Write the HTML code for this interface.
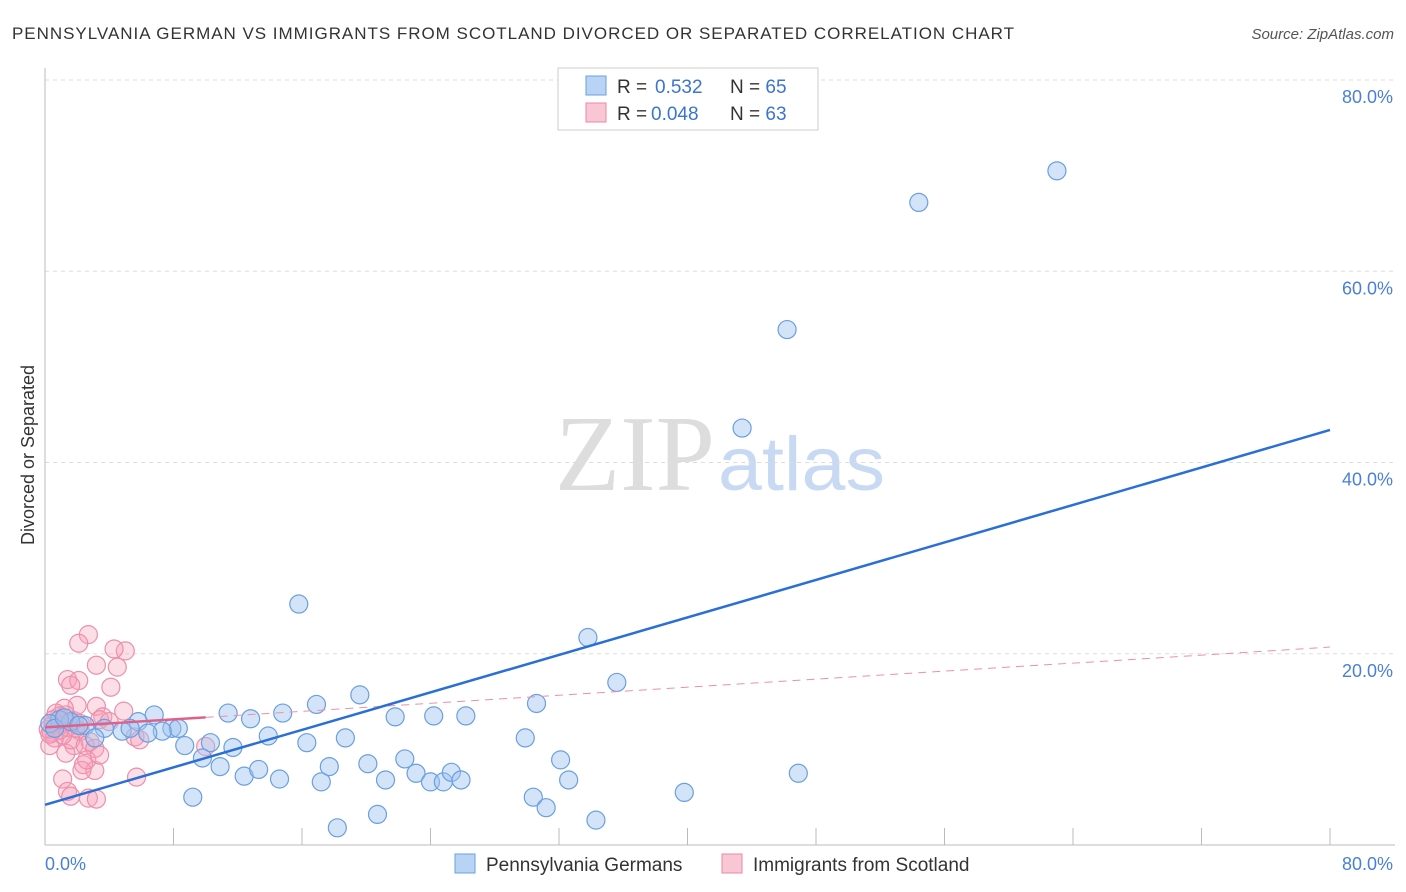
<!DOCTYPE html>
<html><head><meta charset="utf-8"><style>
body{margin:0;background:#fff;font-family:"Liberation Sans",sans-serif}
svg{display:block}
</style></head><body>
<svg id="chart" width="1406" height="892" xmlns="http://www.w3.org/2000/svg">
<text x="12" y="39" font-size="17" fill="#333" textLength="1002" lengthAdjust="spacing">PENNSYLVANIA GERMAN VS IMMIGRANTS FROM SCOTLAND DIVORCED OR SEPARATED CORRELATION CHART</text>
<text x="1394" y="39" font-size="15" fill="#555" font-style="italic" text-anchor="end">Source: ZipAtlas.com</text>
<text x="715" y="490" font-size="108" fill="#ddd" font-family="Liberation Serif,serif" text-anchor="end" textLength="160" lengthAdjust="spacingAndGlyphs">ZIP</text>
<text x="718" y="490" font-size="76" fill="#c8daf3" textLength="167" lengthAdjust="spacingAndGlyphs">atlas</text>
<g id="grid"></g>
<g id="axes"></g>
<g id="pts"></g>
<g id="trends"></g>
<text transform="translate(34,455) rotate(-90)" font-size="18" fill="#333" text-anchor="middle">Divorced or Separated</text>
<text x="45" y="870" font-size="18" fill="#4a7fd6">0.0%</text>
<text x="1393" y="870" font-size="18" fill="#4a7fd6" text-anchor="end">80.0%</text>
<g>
<rect x="558" y="68" width="260" height="62" fill="#fff" stroke="#ccc"/>
<rect x="586" y="76" width="20" height="19" fill="#b9d3f5" stroke="#6a9fe0"/>
<rect x="586" y="103" width="20" height="19" fill="#f9c6d4" stroke="#e88aa8"/>
<text x="617" y="93" font-size="19" fill="#333">R = <tspan x="655" fill="#3a74d4">0.532</tspan><tspan x="730">N = </tspan><tspan fill="#3a74d4">65</tspan></text>
<text x="617" y="120" font-size="19" fill="#333">R = <tspan x="651" fill="#3a74d4">0.048</tspan><tspan x="730">N = </tspan><tspan fill="#3a74d4">63</tspan></text>
</g>
<g>
<rect x="455" y="854" width="20" height="19" fill="#b9d3f5" stroke="#6a9fe0"/>
<text x="486" y="871" font-size="19" fill="#333">Pennsylvania Germans</text>
<rect x="722" y="854" width="20" height="19" fill="#f9c6d4" stroke="#e88aa8"/>
<text x="753" y="871" font-size="19" fill="#333">Immigrants from Scotland</text>
</g>
</svg>
<script>
const yTicks=[20,40,60,80];
const yTickLabels=["20.0%","40.0%","60.0%","80.0%"];
const xTicks=[0,8,16,24,32,40,48,56,64,72,80];
const blueX=[15.8,33.8,35.6,19.6,16.9,30.6,6.8,11.4,12.8,14.8,21.8,24.2,26.2,5.8,7.9,8.3,7.3,6.4,3.7,4.8,5.3,2.5,1.6,0.9,3.1,8.7,10.3,11.7,13.9,16.3,18.7,29.9,9.8,10.9,12.4,13.3,14.6,17.2,17.7,20.1,21.2,22.4,23.1,24.0,24.8,25.3,25.9,32.1,32.6,39.8,46.9,9.2,30.4,31.2,34.3,20.7,18.2,43.4,46.2,54.4,63.0,0.3,0.6,1.2,2.1];
const blueY=[25.2,21.7,17.0,15.7,14.7,14.8,13.6,13.8,13.2,13.8,13.4,13.5,13.5,12.9,12.2,12.2,11.9,11.7,12.2,11.9,12.2,12.5,12.9,13.1,11.2,10.4,10.7,10.2,11.4,10.7,11.2,11.2,9.1,8.2,7.2,7.9,6.9,6.6,8.2,8.5,6.8,9.0,7.5,6.6,6.6,7.6,6.8,8.9,6.8,5.5,7.5,5.0,5.0,3.9,2.6,3.2,1.8,43.6,53.9,67.2,70.5,12.7,12.2,13.3,12.5];
const pinkX=[2.7,2.1,5.0,4.3,3.2,4.5,1.4,2.1,1.6,4.1,2.0,3.2,1.2,4.9,3.6,3.4,2.2,5.6,2.8,1.8,1.3,2.4,3.1,2.3,5.7,1.1,1.4,1.6,2.7,3.2,10.0,0.8,0.4,0.6,0.2,0.9,1.2,1.6,0.3,0.7,0.5,1.1,1.9,1.4,2.5,5.9,4.0,3.1,2.6,3.4,0.5,0.9,1.3,0.3,1.8,2.2];
const pinkY=[22.0,21.1,20.3,20.5,18.8,18.6,17.3,17.2,16.7,16.5,14.6,14.5,14.3,14.0,13.4,13.1,11.9,11.3,10.8,10.4,9.6,8.4,7.8,7.8,7.1,6.9,5.6,5.1,4.9,4.8,10.3,12.5,11.8,11.2,12.1,13.5,12.9,11.0,10.4,13.8,13.1,11.5,12.2,12.3,10.4,11.0,12.9,10.1,8.9,9.4,12.6,12.0,13.6,11.6,13.0,12.7];
const blueTrend=[4.2,43.4];
const pinkTrend=[12.3,20.7];
const NS="http://www.w3.org/2000/svg";
const sx=v=>45+v*(1330-45)/80, sy=v=>845-v*(845-80)/80;
function mk(t,a,p){const e=document.createElementNS(NS,t);for(const k in a)e.setAttribute(k,a[k]);document.getElementById(p).appendChild(e);return e;}
yTicks.forEach((t,i)=>{
 const l=mk('line',{x1:45,x2:1395,y1:sy(t),y2:sy(t),stroke:'#ddd','stroke-dasharray':'4,4'},'grid');
 
 
 const tx=mk('text',{x:1393,y:sy(t)+23,'font-size':18,fill:'#4a7fd6','text-anchor':'end'},'grid');
 tx.textContent=yTickLabels[i];
 
 
});
const ax=mk('line',{x1:45,x2:45,y1:68,y2:845,stroke:'#bbb'},'axes');


const bx=mk('line',{x1:45,x2:1395,y1:845,y2:845,stroke:'#bbb'},'axes');


xTicks.forEach(t=>{
 const l=mk('line',{x1:sx(t),x2:sx(t),y1:828,y2:845,stroke:'#bbb'},'axes');
 
 
});
pinkX.forEach((x,i)=>{
 const c=mk('circle',{cx:sx(x),cy:sy(pinkY[i]),r:9,fill:'rgba(245,160,185,0.35)',stroke:'#ec8fac','stroke-width':1.2},'pts');
 
 
});
blueX.forEach((x,i)=>{
 const c=mk('circle',{cx:sx(x),cy:sy(blueY[i]),r:9,fill:'rgba(160,195,240,0.45)',stroke:'#6a9fe0','stroke-width':1.2},'pts');
 
 
});
const pl=(v)=>pinkTrend[0]+(pinkTrend[1]-pinkTrend[0])*v/80;
const pd=mk('line',{x1:sx(10),y1:sy(pl(10)),x2:sx(80),y2:sy(pl(80)),stroke:'#ec8fac','stroke-dasharray':'8,6','stroke-width':1},'trends');


const ps=mk('line',{x1:sx(0),y1:sy(pl(0)),x2:sx(10),y2:sy(pl(10)),stroke:'#e0608a','stroke-width':2.5},'trends');


const bl=mk('line',{x1:sx(0),y1:sy(blueTrend[0]),x2:sx(80),y2:sy(blueTrend[1]),stroke:'#2a6fd6','stroke-width':2.5},'trends');


</script>
</body></html>
